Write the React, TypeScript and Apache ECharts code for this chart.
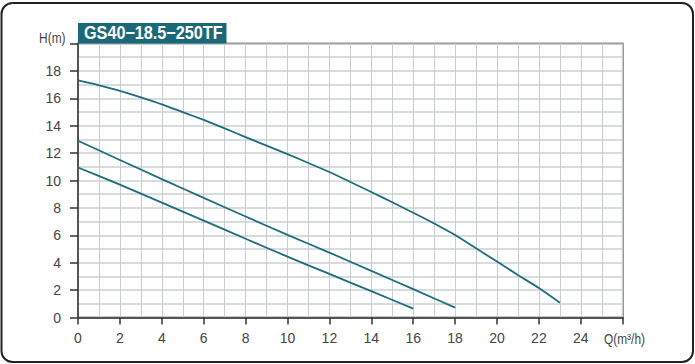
import { useEffect, useRef } from "react";
import * as echarts from "echarts";

const titleText = "GS40−18.5−250TF";
const yName = "H(m)";
const xName = "Q(m³/h)";

const qA = [0, 1, 2, 3, 4, 5, 6, 7, 8, 9, 10, 11, 12, 13, 14, 15, 16, 17, 18, 19, 20, 21, 22, 23];
const hA = [17.3, 16.95, 16.55, 16.07, 15.56, 14.99, 14.42, 13.8, 13.17, 12.55, 11.93, 11.28, 10.62, 9.89, 9.16, 8.41, 7.65, 6.86, 6.02, 5.05, 4.08, 3.1, 2.15, 1.08];

const qB = [0, 2, 4, 6, 8, 10, 12, 14, 16, 18];
const hB = [12.9, 11.5, 10.1, 8.73, 7.37, 6.03, 4.74, 3.4, 2.07, 0.72];

const qC = [0, 2, 4, 6, 8, 10, 12, 14, 16];
const hC = [10.95, 9.7, 8.38, 7.07, 5.75, 4.44, 3.18, 1.92, 0.65];

const xTicks = [0, 2, 4, 6, 8, 10, 12, 14, 16, 18, 20, 22, 24];
const yLabels = [0, 2, 4, 6, 8, 10, 12, 14, 16, 18];

export default function App() {
  const ref = useRef<HTMLDivElement>(null);
  useEffect(() => {
    const chart = echarts.init(ref.current!, null, { renderer: "svg" });
    const font = '"Liberation Sans", Arial, sans-serif';
    const lineColor = "#1d6d7e";
    const pairs = (q: number[], h: number[]) => q.map((v, i) => [v, h[i]]);
    const mk = (name: string, q: number[], h: number[], smooth: number) => ({
      name,
      type: "line",
      data: pairs(q, h),
      smooth,
      showSymbol: false,
      symbol: "none",
      lineStyle: { color: lineColor, width: 1.8 },
      z: 5,
    });
    chart.setOption({
      animation: false,
      backgroundColor: "#ffffff",
      grid: {
        left: 78,
        right: 72.3,
        top: 43.5,
        bottom: 46.5,
        show: true,
        borderColor: "#1a1a1a",
        borderWidth: 1.5,
        backgroundColor: "transparent",
      },
      xAxis: {
        type: "value",
        min: 0,
        max: 26,
        interval: 2,
        axisLine: { show: true, onZero: false, lineStyle: { color: "#555", width: 2 } },
        axisTick: { show: true, length: 7, lineStyle: { color: "#333", width: 1.5 } },
        axisLabel: {
          customValues: xTicks,
          margin: 13,
          color: "#444",
          fontFamily: font,
          fontSize: 14,
        },
        splitLine: { show: true, lineStyle: { color: "#c9cdcd", width: 1 } },
        minorTick: { show: false, splitNumber: 2 },
        minorSplitLine: { show: true, lineStyle: { color: "#c9cdcd", width: 1 } },
      },
      yAxis: {
        type: "value",
        min: 0,
        max: 20,
        interval: 2,
        axisLine: { show: true, onZero: false, lineStyle: { color: "#555", width: 2 } },
        axisTick: { show: true, length: 8, lineStyle: { color: "#333", width: 1.5 } },
        axisLabel: {
          customValues: yLabels,
          margin: 17,
          color: "#444",
          fontFamily: font,
          fontSize: 14,
        },
        splitLine: { show: true, lineStyle: { color: "#cdd1d1", width: 1.5 } },
        minorTick: { show: false, splitNumber: 2 },
        minorSplitLine: { show: true, lineStyle: { color: "#cdd1d1", width: 1.5 } },
      },
      series: [mk("A", qA, hA, 0.2), mk("B", qB, hB, 0.2), mk("C", qC, hC, 0.2)],
      graphic: [
        {
          type: "rect",
          shape: { x: 1.5, y: 3, width: 691.5, height: 359, r: 11 },
          style: { fill: "none", stroke: "#222", lineWidth: 2 },
          silent: true,
          z: 0,
        },
        {
          type: "rect",
          shape: { x: 78, y: 23, width: 148.5, height: 20.5 },
          style: { fill: "#1b6878" },
          z: 10,
        },
        {
          type: "text",
          x: 84,
          y: 33.5,
          scaleX: 0.9,
          style: {
            text: titleText,
            fill: "#ffffff",
            font: `bold 18px ${font}`,
            align: "left",
            verticalAlign: "middle",
          },
          z: 11,
        },
        {
          type: "text",
          x: 65.5,
          y: 38.5,
          scaleX: 0.85,
          style: {
            text: yName,
            fill: "#444",
            font: `14px ${font}`,
            align: "right",
            verticalAlign: "middle",
          },
          z: 11,
        },
        {
          type: "text",
          x: 604,
          y: 339,
          scaleX: 0.85,
          style: {
            text: xName,
            fill: "#444",
            font: `14px ${font}`,
            align: "left",
            verticalAlign: "middle",
          },
          z: 11,
        },
      ],
    });
    return () => chart.dispose();
  }, []);
  return <div ref={ref} style={{ position: "fixed", left: 0, top: 0, width: 695, height: 364 }} />;
}
